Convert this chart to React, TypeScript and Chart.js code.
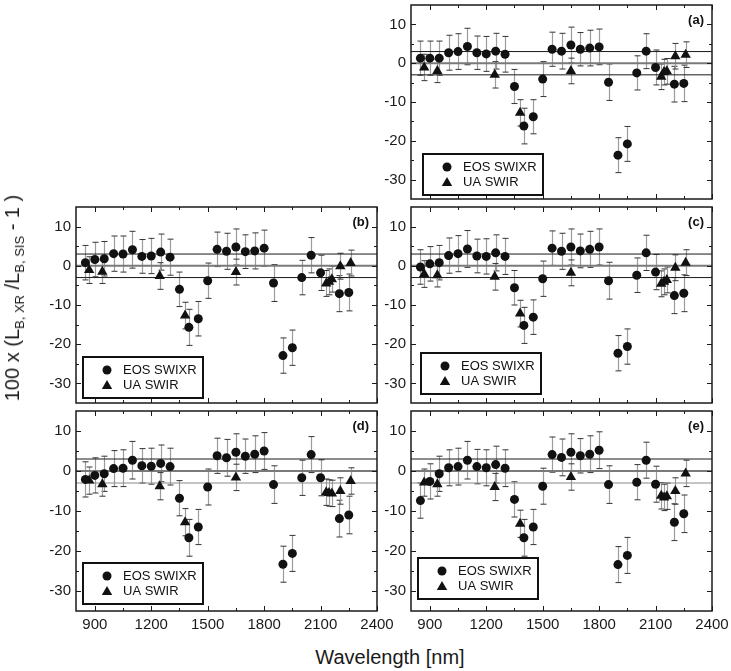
import React, { useEffect, useRef } from "react";
import { Chart, registerables } from "chart.js";

Chart.register(...registerables);

// ---------- data ----------
const seriesNames = ["EOS SWIXR", "UA SWIR"];
const circleX = [850, 900, 950, 1000, 1050, 1100, 1150, 1200, 1250, 1300, 1350, 1400, 1450, 1500, 1550, 1600, 1650, 1700, 1750, 1800, 1850, 1900, 1950, 2000, 2050, 2100, 2200, 2250];
const triangleX = [870, 940, 1245, 1380, 1650, 2130, 2145, 2160, 2205, 2260];

const eosErr = [4.4, 4.4, 4.4, 4.5, 4.6, 4.7, 4.3, 4.5, 4.6, 4.6, 4.4, 4.6, 4.4, 4.5, 4.4, 4.6, 4.6, 4.3, 4.6, 4.6, 4.7, 4.5, 4.5, 4.4, 4.5, 4.5, 4.6, 4.7];
const uaErr = [3.4, 3.0, 3.4, 3.4, 3.3, 3.3, 3.3, 3.3, 3.3, 3.3];

const eosA = [1.3, 1.3, 1.3, 2.7, 3.0, 4.3, 2.7, 2.4, 3.1, 2.3, -6.0, -16.2, -13.8, -4.1, 3.6, 3.1, 4.7, 3.6, 3.9, 4.2, -4.9, -23.7, -20.8, -2.5, 3.1, -1.1, -5.4, -5.2];
const uaA = [-1.1, -2.0, -3.0, -12.8, -2.0, -3.5, -2.3, -2.1, 1.8, 2.2];
const eosB = [0.8, 1.6, 1.8, 3.1, 3.0, 4.1, 2.4, 2.5, 3.5, 2.2, -6.0, -15.7, -13.5, -3.8, 4.2, 3.7, 4.8, 3.6, 3.8, 4.5, -4.4, -22.9, -20.9, -3.0, 2.7, -1.8, -7.1, -6.8];
const uaB = [-1.1, -1.5, -2.6, -12.7, -1.6, -4.5, -4.1, -3.4, -0.1, 0.7];
const eosC = [-0.3, 0.5, 0.8, 2.6, 3.1, 4.3, 2.5, 2.4, 3.3, 2.4, -5.6, -15.2, -13.1, -3.3, 4.5, 3.7, 4.8, 3.8, 4.2, 4.8, -3.8, -22.3, -20.6, -2.4, 3.3, -1.6, -7.6, -7.0];
const uaC = [-2.1, -2.4, -2.8, -12.2, -1.8, -4.6, -4.1, -3.6, -0.5, 0.8];
const eosD = [-2.1, -1.1, -0.7, 0.6, 0.7, 2.7, 1.3, 1.2, 1.9, 1.1, -6.8, -16.7, -14.0, -4.0, 3.8, 3.3, 4.7, 3.7, 4.2, 5.0, -3.4, -23.3, -20.6, -1.7, 4.1, -1.7, -11.9, -11.0];
const uaD = [-2.4, -3.3, -3.8, -12.8, -1.6, -5.3, -5.5, -5.6, -5.0, -2.5];
const eosE = [-7.4, -2.6, -0.7, 0.8, 1.1, 2.7, 1.1, 0.8, 1.6, 0.7, -7.1, -16.7, -14.0, -3.8, 4.1, 3.4, 4.7, 3.8, 4.2, 5.2, -3.4, -23.4, -21.1, -2.8, 2.7, -3.3, -12.8, -10.7];
const uaE = [-2.9, -3.3, -4.0, -13.2, -1.5, -6.2, -6.6, -6.3, -5.0, -0.6];

const refLevels = [3, 0, -3];
const xTicks = [900, 1200, 1500, 1800, 2100, 2400];
const yTicks = [-30, -20, -10, 0, 10];
const xMinorStep = 150;
const yMinorStep = 5;
const xRange = [800, 2400];
const yRange = [-35, 15];

// ---------- layout ----------
const FONT = '"Liberation Sans", Arial, Helvetica, sans-serif';
const YW = 45;
const PADR = 20;

type PanelCfg = {
  label: string;
  eos: number[];
  ua: number[];
  L: number; T: number; R: number; B: number;
  bottomRow: boolean;
  legend: [number, number];
  lowerGrey: boolean;
};

const panels: PanelCfg[] = [
  { label: "(a)", eos: eosA, ua: uaA, L: 411, T: 1, R: 712, B: 203, bottomRow: false, legend: [12, 45], lowerGrey: false },
  { label: "(b)", eos: eosB, ua: uaB, L: 76, T: 203, R: 377, B: 407, bottomRow: false, legend: [7, 46], lowerGrey: false },
  { label: "(c)", eos: eosC, ua: uaC, L: 411, T: 203, R: 712, B: 407, bottomRow: false, legend: [10, 50], lowerGrey: false },
  { label: "(d)", eos: eosD, ua: uaD, L: 76, T: 407, R: 377, B: 611, bottomRow: true, legend: [7, 48], lowerGrey: true },
  { label: "(e)", eos: eosE, ua: uaE, L: 411, T: 407, R: 712, B: 611, bottomRow: true, legend: [7, 53], lowerGrey: true },
];

function drawTriangle(ctx: CanvasRenderingContext2D, x: number, y: number, r: number) {
  ctx.beginPath();
  for (let k = 0; k < 3; k++) {
    const a = (k * 2 * Math.PI) / 3;
    const px = x + Math.sin(a) * r;
    const py = y - Math.cos(a) * r;
    if (k === 0) ctx.moveTo(px, py);
    else ctx.lineTo(px, py);
  }
  ctx.closePath();
  ctx.fill();
}

function makePlugin(p: PanelCfg) {
  return {
    id: "panelDeco",
    beforeDatasetsDraw(chart: any) {
      const { ctx, scales } = chart;
      const xs = scales.x, ys = scales.y;
      ctx.save();
      const bars = (xv: number[], yv: number[], ev: number[]) => {
        for (let i = 0; i < xv.length; i++) {
          const px = Math.round(xs.getPixelForValue(xv[i])) + 0.5;
          const top = ys.getPixelForValue(yv[i] + ev[i]);
          const bot = ys.getPixelForValue(yv[i] - ev[i]);
          ctx.strokeStyle = "#9c9c9c";
          ctx.lineWidth = 1.2;
          ctx.beginPath();
          ctx.moveTo(px, top);
          ctx.lineTo(px, bot);
          ctx.stroke();
          ctx.strokeStyle = "#333";
          ctx.lineWidth = 1;
          ctx.beginPath();
          ctx.moveTo(px - 3, top);
          ctx.lineTo(px + 3, top);
          ctx.moveTo(px - 3, bot);
          ctx.lineTo(px + 3, bot);
          ctx.stroke();
        }
      };
      bars(circleX, p.eos, eosErr);
      bars(triangleX, p.ua, uaErr);
      ctx.restore();
    },
    afterDatasetsDraw(chart: any) {
      const { ctx, chartArea: a, scales } = chart;
      const xs = scales.x, ys = scales.y;
      ctx.save();
      // frame
      ctx.strokeStyle = "#1a1a1a";
      ctx.lineWidth = 1.5;
      ctx.strokeRect(a.left, a.top, a.right - a.left, a.bottom - a.top);
      // inward ticks
      ctx.lineWidth = 1;
      ctx.beginPath();
      for (let v = xRange[0] + 100; v <= xRange[1]; v += xMinorStep) {
        const major = xTicks.includes(v);
        const len = major ? 5 : 3;
        const px = Math.round(xs.getPixelForValue(v)) + 0.5;
        ctx.moveTo(px, a.bottom);
        ctx.lineTo(px, a.bottom - len);
        ctx.moveTo(px, a.top);
        ctx.lineTo(px, a.top + len);
      }
      for (let v = yRange[0] + 5; v < yRange[1]; v += yMinorStep) {
        const major = yTicks.includes(v);
        const len = major ? 5 : 3;
        const py = Math.round(ys.getPixelForValue(v)) + 0.5;
        ctx.moveTo(a.left, py);
        ctx.lineTo(a.left + len, py);
        ctx.moveTo(a.right, py);
        ctx.lineTo(a.right - len, py);
      }
      ctx.stroke();
      // panel label
      ctx.fillStyle = "#111";
      ctx.font = `bold 13px ${FONT}`;
      ctx.textAlign = "right";
      ctx.textBaseline = "middle";
      ctx.fillText(p.label, a.right - 8, a.top + 15);
      // legend
      const lx = a.left + p.legend[0];
      const ly = a.bottom - p.legend[1];
      const lw = 120, lh = 41;
      ctx.fillStyle = "#fff";
      ctx.fillRect(lx, ly, lw, lh);
      ctx.strokeStyle = "#111";
      ctx.lineWidth = 2;
      ctx.strokeRect(lx, ly, lw, lh);
      ctx.fillStyle = "#111";
      ctx.beginPath();
      ctx.arc(lx + 24, ly + 13, 4.5, 0, Math.PI * 2);
      ctx.fill();
      drawTriangle(ctx, lx + 24, ly + 29, 6);
      ctx.font = `13px ${FONT}`;
      ctx.textAlign = "left";
      ctx.fillText(seriesNames[0], lx + 40, ly + 13.5);
      ctx.fillText(seriesNames[1], lx + 40, ly + 28);
      ctx.restore();
    },
  };
}

function Panel({ p }: { p: PanelCfg }) {
  const ref = useRef<HTMLCanvasElement | null>(null);
  const xh = p.bottomRow ? 30 : 2;
  const left = p.L - YW;
  const top = p.T - 2;
  const width = p.R - p.L + YW + PADR;
  const height = p.B - p.T + 2 + xh;

  useEffect(() => {
    if (!ref.current) return;
    const refSets = refLevels.map((lv) => ({
      label: "ref" + lv,
      data: [{ x: xRange[0], y: lv }, { x: xRange[1], y: lv }],
      showLine: true,
      pointRadius: 0,
      borderColor: lv === 0 ? "#7a7a7a" : lv < 0 && p.lowerGrey ? "#8a8a8a" : "#1a1a1a",
      borderWidth: lv === 0 ? 2 : 1,
      order: 10,
    }));
    const chart = new Chart(ref.current, {
      type: "scatter",
      data: {
        datasets: [
          ...refSets,
          {
            label: seriesNames[0],
            data: circleX.map((x, i) => ({ x, y: p.eos[i] })),
            pointStyle: "circle",
            pointRadius: 4.5,
            backgroundColor: "#111",
            borderColor: "#111",
            borderWidth: 0,
            order: 1,
          },
          {
            label: seriesNames[1],
            data: triangleX.map((x, i) => ({ x, y: p.ua[i] })),
            pointStyle: "triangle",
            pointRadius: 6,
            backgroundColor: "#111",
            borderColor: "#111",
            borderWidth: 0,
            order: 0,
          },
        ] as any,
      },
      options: {
        responsive: false,
        animation: false,
        devicePixelRatio: 1,
        layout: { padding: { top: 2, right: PADR, bottom: 0, left: 0 } },
        plugins: { legend: { display: false }, tooltip: { enabled: false } },
        events: [],
        scales: {
          x: {
            type: "linear",
            min: xRange[0],
            max: xRange[1],
            grid: { display: false, drawTicks: false },
            border: { display: false },
            ticks: {
              display: p.bottomRow,
              font: { size: 15, family: FONT },
              color: "#1a1a1a",
              padding: 5,
              maxRotation: 0,
              autoSkip: false,
              callback: (v: any) => String(v),
            },
            afterBuildTicks: (s: any) => {
              s.ticks = xTicks.map((v) => ({ value: v }));
            },
            afterFit: (s: any) => {
              s.height = xh;
              s.paddingLeft = 0;
              s.paddingRight = 0;
              s.paddingTop = 0;
              s.paddingBottom = 0;
            },
          },
          y: {
            type: "linear",
            min: yRange[0],
            max: yRange[1],
            grid: { display: false, drawTicks: false },
            border: { display: false },
            ticks: {
              font: { size: 15, family: FONT },
              color: "#1a1a1a",
              padding: 5,
              autoSkip: false,
              callback: (v: any) => String(v),
            },
            afterBuildTicks: (s: any) => {
              s.ticks = yTicks.map((v) => ({ value: v }));
            },
            afterFit: (s: any) => {
              s.width = YW;
              s.paddingLeft = 0;
              s.paddingRight = 0;
              s.paddingTop = 0;
              s.paddingBottom = 0;
            },
          },
        },
      } as any,
      plugins: [makePlugin(p)],
    });
    return () => chart.destroy();
  }, []);

  return (
    <canvas
      ref={ref}
      width={width}
      height={height}
      style={{ position: "absolute", left, top, width, height }}
    />
  );
}

export default function App() {
  return (
    <div
      style={{
        position: "absolute",
        left: 0,
        top: 0,
        width: 731,
        height: 671,
        background: "#fff",
        overflow: "hidden",
        fontFamily: FONT,
        color: "#1a1a1a",
      }}
    >
      {panels.map((p) => (
        <Panel key={p.label} p={p} />
      ))}
      <div
        style={{
          position: "absolute",
          left: 16,
          top: 298,
          transform: "translate(-50%, -50%) rotate(-90deg)",
          whiteSpace: "nowrap",
          fontSize: 20,
          lineHeight: "24px",
        }}
      >
        100 x (L<sub style={{ fontSize: 13 }}>B, XR</sub> /L<sub style={{ fontSize: 13 }}>B, SIS</sub> - 1 )
      </div>
      <div
        style={{
          position: "absolute",
          left: 390,
          top: 657,
          transform: "translate(-50%, -50%)",
          whiteSpace: "nowrap",
          fontSize: 20,
          lineHeight: "24px",
        }}
      >
        Wavelength [nm]
      </div>
    </div>
  );
}
